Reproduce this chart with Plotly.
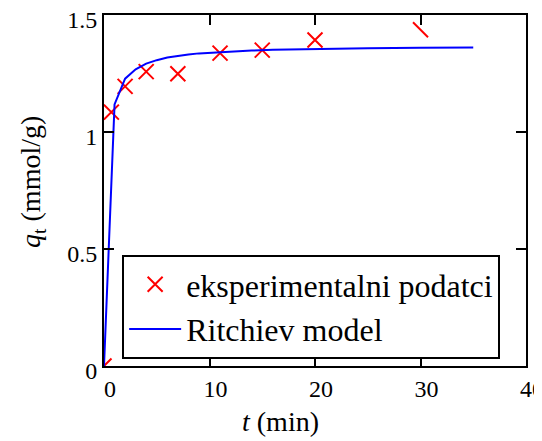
import plotly.graph_objects as go

# Experimental data
t_exp = [0, 0.7, 2, 4, 7, 11, 15, 20, 30]
q_exp = [0, 1.085, 1.195, 1.258, 1.249, 1.337, 1.350, 1.393, 1.437]

# Ritchie model curve
t_mod = [0, 1, 2, 3, 4, 5, 6, 7, 8, 9, 10, 12, 14, 16, 18, 20, 25, 30, 35]
q_mod = [0, 1.118, 1.228, 1.268, 1.292, 1.307, 1.318, 1.326, 1.331, 1.336, 1.339,
         1.344, 1.348, 1.351, 1.353, 1.355, 1.358, 1.360, 1.361]

x_ticks = [0, 10, 20, 30, 40]
y_ticks = [0, 0.5, 1, 1.5]
y_tick_labels = ["0", "0.5", "1", "1.5"]

FONT = "Liberation Serif"

symbols = ["x-thin-open"] * (len(t_exp) - 1) + ["line-nw-open"]

fig = go.Figure()
fig.add_trace(go.Scatter(
    x=t_exp, y=q_exp, mode="markers", name="eksperimentalni podatci",
    marker=dict(symbol=symbols, size=15, color="red",
                line=dict(color="red", width=2)),
))
fig.add_trace(go.Scatter(
    x=t_mod, y=q_mod, mode="lines", name="Ritchiev model",
    line=dict(color="blue", width=2),
))

axis_common = dict(
    showline=True, linecolor="black", linewidth=2, mirror="ticks",
    ticks="inside", ticklen=10, tickwidth=2, tickcolor="black",
    showgrid=False, zeroline=False, automargin=False,
    ticklabeloverflow="allow",
    tickfont=dict(family=FONT, size=24, color="black"),
)

fig.update_xaxes(range=[0, 40], tickvals=x_ticks, ticklabelshift=6, **axis_common)
fig.update_yaxes(range=[0, 1.5], tickvals=y_ticks, ticktext=y_tick_labels,
                 ticklabelshift=5, **axis_common)

fig.update_layout(
    width=534, height=433,
    margin=dict(l=96, r=16, t=7, b=75),
    paper_bgcolor="white", plot_bgcolor="white",
    font=dict(family=FONT, color="black", size=24),
    legend=dict(
        x=0.043, y=0.168, xanchor="left", yanchor="middle",
        bgcolor="white", bordercolor="black", borderwidth=2,
        font=dict(family=FONT, size=32, color="black"),
        itemwidth=52, tracegroupgap=0,
    ),
    annotations=[
        dict(text="<i>t</i> (min)", xref="paper", yref="paper",
             x=0.419, y=-0.157, xanchor="center", yanchor="middle",
             showarrow=False, font=dict(family=FONT, size=28, color="black")),
        dict(text="<i>q</i><sub>t</sub> (mmol/g)", xref="paper", yref="paper",
             x=-0.171, y=0.524, xanchor="center", yanchor="middle", textangle=-90,
             showarrow=False, font=dict(family=FONT, size=28, color="black")),
    ],
)

fig.write_html("out.html")
